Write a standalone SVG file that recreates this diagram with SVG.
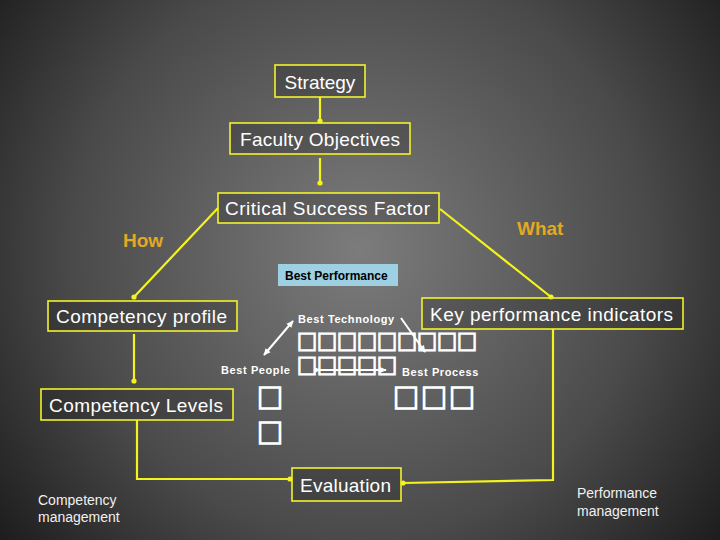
<svg xmlns="http://www.w3.org/2000/svg" width="720" height="540" viewBox="0 0 720 540">
<defs>
  <radialGradient id="bg" gradientUnits="userSpaceOnUse" cx="360" cy="250" r="480">
    <stop offset="0" stop-color="#7c7c7c"/>
    <stop offset="0.6" stop-color="#4a4a4a"/>
    <stop offset="1" stop-color="#181818"/>
  </radialGradient>
  <marker id="dot" viewBox="0 0 6 6" refX="3" refY="3" markerWidth="6" markerHeight="6" markerUnits="userSpaceOnUse">
    <circle cx="3" cy="3" r="2.6" fill="#f4f41c"/>
  </marker>
  <marker id="wdot" viewBox="0 0 6 6" refX="3" refY="3" markerWidth="5" markerHeight="5" markerUnits="userSpaceOnUse">
    <circle cx="3" cy="3" r="2.6" fill="#ffffff"/>
  </marker>
  <marker id="warr" viewBox="0 0 10 10" refX="8" refY="5" markerWidth="8" markerHeight="8" markerUnits="userSpaceOnUse" orient="auto-start-reverse">
    <path d="M0,1 L9,5 L0,9 z" fill="#ffffff"/>
  </marker>
</defs>
<style>
  .box { fill: rgba(20,20,20,0.22); stroke: #f2f22a; stroke-width: 1.6; }
  .lbl { font-family: "Liberation Sans", Arial, sans-serif; font-size: 19px; fill: #ffffff; }
  .side { font-family: "Liberation Sans", Arial, sans-serif; font-size: 19px; font-weight: bold; fill: #e4a822; }
  .small { font-family: "Liberation Sans", Arial, sans-serif; font-size: 11px; font-weight: bold; fill: #ffffff; letter-spacing: 0.6px; }
  .note { font-family: "Liberation Sans", Arial, sans-serif; font-size: 14px; fill: #f0f0f0; }
  .tofu { font-family: "Noto Sans CJK SC", "DejaVu Sans", sans-serif; fill: none; stroke: #ffffff; stroke-width: 1.6; }
  .conn { fill: none; stroke: #f4f41c; stroke-width: 2.2; }
  .wconn { fill: none; stroke: #ffffff; stroke-width: 2; }
</style>
<rect x="0" y="0" width="720" height="540" fill="url(#bg)"/>

<g id="connectors">
  <path class="conn" d="M320,97 L320,121" marker-end="url(#dot)"/>
  <path class="conn" d="M320,158 L320,183" marker-end="url(#dot)"/>
  <path class="conn" d="M218,208 L134,297" marker-end="url(#dot)"/>
  <path class="conn" d="M440,209 L551,297" marker-end="url(#dot)"/>
  <path class="conn" d="M134,334 L134,381" marker-end="url(#dot)"/>
  <path class="conn" d="M137,420 L137,479 L290,479" marker-end="url(#dot)"/>
  <path class="conn" d="M553,329 L553,480 L403,483" marker-end="url(#dot)"/>
  <path class="wconn" d="M264,355 L293,321" marker-start="url(#warr)" marker-end="url(#warr)"/>
  <path class="wconn" d="M401,318 L425,352" marker-end="url(#warr)"/>
  <path class="wconn" d="M316,370 L386,370" marker-start="url(#wdot)" marker-end="url(#warr)"/>
</g>

<g id="strategy">
  <rect class="box" x="275" y="65" width="90" height="32"/>
  <text class="lbl" x="320" y="89" text-anchor="middle">Strategy</text>
</g>
<g id="faculty-objectives">
  <rect class="box" x="230" y="123" width="180" height="31"/>
  <text class="lbl" x="320" y="146" text-anchor="middle" textLength="160">Faculty Objectives</text>
</g>
<g id="critical-success-factor">
  <rect class="box" x="218" y="193" width="221" height="30"/>
  <text class="lbl" x="225" y="215" textLength="205">Critical Success Factor</text>
</g>
<g id="how">
  <text class="side" x="123" y="247">How</text>
</g>
<g id="what">
  <text class="side" x="517" y="235">What</text>
</g>
<g id="best-performance">
  <rect x="278" y="264" width="120" height="22" fill="#9dd0e2"/>
  <text x="285" y="280" font-family="Liberation Sans, Arial, sans-serif" font-size="12" font-weight="bold" fill="#000000">Best Performance</text>
</g>
<g id="competency-profile">
  <rect class="box" x="48" y="301" width="189" height="30"/>
  <text class="lbl" x="56" y="323" textLength="171">Competency profile</text>
</g>
<g id="key-performance-indicators">
  <rect class="box" x="422" y="298" width="261" height="31"/>
  <text class="lbl" x="430" y="321" textLength="243">Key performance indicators</text>
</g>
<g id="best-technology">
  <text class="small" x="298" y="323">Best Technology</text>
</g>
<g id="best-people">
  <text class="small" x="221" y="374">Best People</text>
</g>
<g id="best-process">
  <text class="small" x="402" y="376">Best Process</text>
</g>
<g id="tofu-text">
  <text class="tofu" font-size="20"><tspan x="297" y="350">□□□□□□□□□</tspan><tspan x="297" y="374">□□□□□</tspan></text>
  <text class="tofu" font-size="26"><tspan x="257" y="408">□</tspan><tspan x="257" y="443">□</tspan></text>
  <text class="tofu" x="393" y="408" font-size="26" letter-spacing="2">□□□</text>
</g>
<g id="competency-levels">
  <rect class="box" x="41" y="389" width="192" height="31"/>
  <text class="lbl" x="49" y="412" textLength="174">Competency Levels</text>
</g>
<g id="evaluation">
  <rect class="box" x="292" y="468" width="109" height="33"/>
  <text class="lbl" x="300" y="492" textLength="91">Evaluation</text>
</g>
<g id="competency-management">
  <text class="note" x="38" y="505">Competency</text>
  <text class="note" x="38" y="522">management</text>
</g>
<g id="performance-management">
  <text class="note" x="577" y="498">Performance</text>
  <text class="note" x="577" y="516">management</text>
</g>
</svg>
